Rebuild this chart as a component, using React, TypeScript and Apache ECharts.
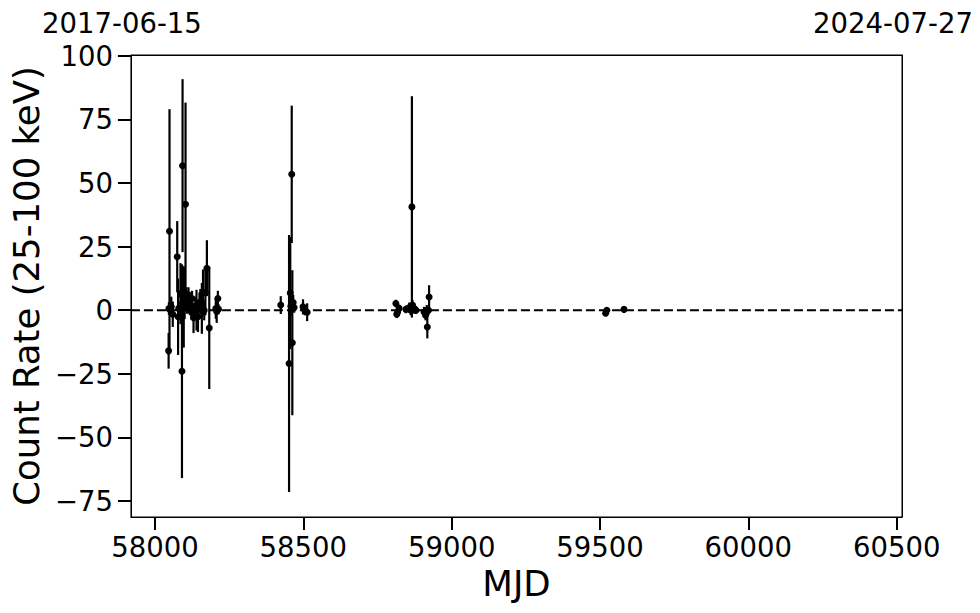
import React, { useEffect, useRef } from "react";
import * as echarts from "echarts";

// Observation epochs (MJD), count rates and 1-sigma errors
const mjd = [
  58046, 58047, 58049, 58055, 58060, 58075, 58078, 58080, 58086, 58091, 58093, 58097,
  58100, 58103, 58106, 58108, 58113, 58118, 58123, 58125, 58130, 58136, 58140, 58145,
  58150, 58153, 58158, 58162, 58166, 58170, 58175, 58183, 58205, 58208, 58212, 58214,
  58424, 58452, 58456, 58458, 58461, 58463, 58466, 58469, 58499, 58505, 58513,
  58812, 58815, 58818, 58823, 58846, 58857, 58862, 58866, 58868, 58874, 58880, 58907,
  58912, 58916, 58918, 58922, 58924,
  59519, 59523, 59581,
];
const rate = [
  -16, 0.6, 31, 1.3, -1.6, 21, -2.6, 0.7, 6.5, -24, 56.8, 1.3,
  6.5, 41.6, 6, 2.6, 6, 1, -0.7, 4.6, -3, 1.3, 0, -2.6,
  3, 3.3, 0.7, 7, 0, 7, 16.5, -7, 0.6, -0.5, 4.6, 0.4,
  2, -21, 6.7, 1.5, 53.4, -12.8, 3, 1, 1.3, 0, -0.8,
  2.6, -1.6, -0.7, 0.7, 0.3, 1, 0, 40.6, 2, 0.6, 0, -0.7,
  -2, 0, -6.6, 0, 5.2,
  -1.2, 0, 0.3,
];
const rateErr = [
  7, 2.5, 48, 4, 5, 14, 15, 3, 12, 42, 34, 16,
  10, 40, 3, 4, 3, 3, 3, 3, 6, 4, 8, 6,
  4, 5, 10, 9, 4, 9, 11, 24, 4, 4.5, 3, 2,
  3.5, 50.5, 22, 4, 27, 28.5, 3, 2, 3, 2, 3.5,
  1.5, 1.5, 1.5, 1.5, 1.5, 2, 2, 43.5, 2, 2, 1.5, 2,
  2, 2, 4.5, 2, 4.6,
  1, 1, 1,
];

const xTicks = [58000, 58500, 59000, 59500, 60000, 60500];
const yTicks = [-75, -50, -25, 0, 25, 50, 75, 100];
const xRange = [57919, 60518];
const yRange = [-81.3, 100.3];
const topTicks = [57919, 60518];
const zeroLevel = 0;

const FONT = "DejaVu Sans";

function mjdToDate(m: number): string {
  const d = new Date(Date.UTC(1858, 10, 17) + Math.round(m) * 86400000);
  const pad = (n: number) => (n < 10 ? "0" + n : "" + n);
  return d.getUTCFullYear() + "-" + pad(d.getUTCMonth() + 1) + "-" + pad(d.getUTCDate());
}

const fmtNum = (v: number) => (v < 0 ? "\u2212" + String(Math.abs(v)) : String(v));

export default function App() {
  const ref = useRef<HTMLDivElement>(null);
  useEffect(() => {
    if (!ref.current) return;
    const chart = echarts.init(ref.current, undefined, { renderer: "svg" });
    const pts = mjd.map((m, i) => [m, rate[i], rateErr[i]]);
    const axisLine = { show: true, onZero: false, lineStyle: { color: "#000", width: 1 } };
    chart.setOption({
      animation: false,
      backgroundColor: "#ffffff",
      textStyle: { fontFamily: FONT },
      grid: {
        left: 127,
        right: 78,
        top: 55,
        bottom: 96,
        containLabel: false,
        show: true,
        borderColor: "#000",
        borderWidth: 1,
      },
      xAxis: [
        {
          type: "value",
          min: xRange[0],
          max: xRange[1],
          position: "bottom",
          name: "MJD",
          nameLocation: "middle",
          nameGap: 48,
          nameTextStyle: { fontSize: 35.5, color: "#000", fontFamily: FONT },
          splitLine: { show: false },
          axisLine,
          axisTick: {
            show: true,
            inside: false,
            length: 13,
            customValues: xTicks,
            lineStyle: { color: "#000", width: 2 },
          },
          axisLabel: {
            customValues: xTicks,
            margin: 16,
            fontSize: 27.5,
            color: "#000",
            fontFamily: FONT,
            formatter: fmtNum,
          },
        },
        {
          type: "value",
          min: xRange[0],
          max: xRange[1],
          position: "top",
          splitLine: { show: false },
          axisLine,
          axisTick: { show: false },
          axisLabel: {
            customValues: topTicks,
            margin: 18,
            fontSize: 27.5,
            color: "#000",
            fontFamily: FONT,
            padding: [0, 18, 0, 0],
            formatter: (v: number) => mjdToDate(v),
          },
        },
      ],
      yAxis: [
        {
          type: "value",
          min: yRange[0],
          max: yRange[1],
          name: "Count Rate (25-100 keV)",
          nameLocation: "middle",
          nameGap: 76,
          nameTextStyle: { fontSize: 35.5, color: "#000", fontFamily: FONT },
          splitLine: { show: false },
          axisLine,
          axisTick: {
            show: true,
            inside: false,
            length: 13,
            customValues: yTicks,
            lineStyle: { color: "#000", width: 2 },
          },
          axisLabel: {
            customValues: yTicks,
            margin: 18,
            fontSize: 27.5,
            color: "#000",
            fontFamily: FONT,
            formatter: fmtNum,
          },
        },
        {
          type: "value",
          min: yRange[0],
          max: yRange[1],
          position: "right",
          splitLine: { show: false },
          axisLine,
          axisTick: { show: false },
          axisLabel: { show: false },
        },
      ],
      series: [
        {
          type: "line",
          xAxisIndex: 0,
          yAxisIndex: 0,
          data: [
            [xRange[0], zeroLevel],
            [xRange[1], zeroLevel],
          ],
          symbol: "none",
          silent: true,
          lineStyle: { color: "#000", width: 2, type: [9, 4], opacity: 1 },
          z: 1,
        },
        {
          type: "custom",
          xAxisIndex: 0,
          yAxisIndex: 0,
          data: pts,
          encode: { x: 0, y: 1 },
          clip: true,
          renderItem: (params: any, api: any) => {
            const x = api.value(0);
            const y = api.value(1);
            const e = api.value(2);
            const p1 = api.coord([x, y - e]);
            const p2 = api.coord([x, y + e]);
            return {
              type: "line",
              shape: { x1: p1[0], y1: p1[1], x2: p2[0], y2: p2[1] },
              style: { stroke: "#000", lineWidth: 2.2, opacity: 1 },
            };
          },
          z: 2,
        },
        {
          type: "scatter",
          xAxisIndex: 0,
          yAxisIndex: 0,
          data: pts.map((p) => [p[0], p[1]]),
          symbol: "circle",
          symbolSize: 7,
          itemStyle: { color: "#000", opacity: 1 },
          z: 3,
        },
      ],
    });
    return () => chart.dispose();
  }, []);
  return (
    <div
      ref={ref}
      style={{ position: "fixed", left: 0, top: 0, width: 980, height: 613 }}
    />
  );
}
